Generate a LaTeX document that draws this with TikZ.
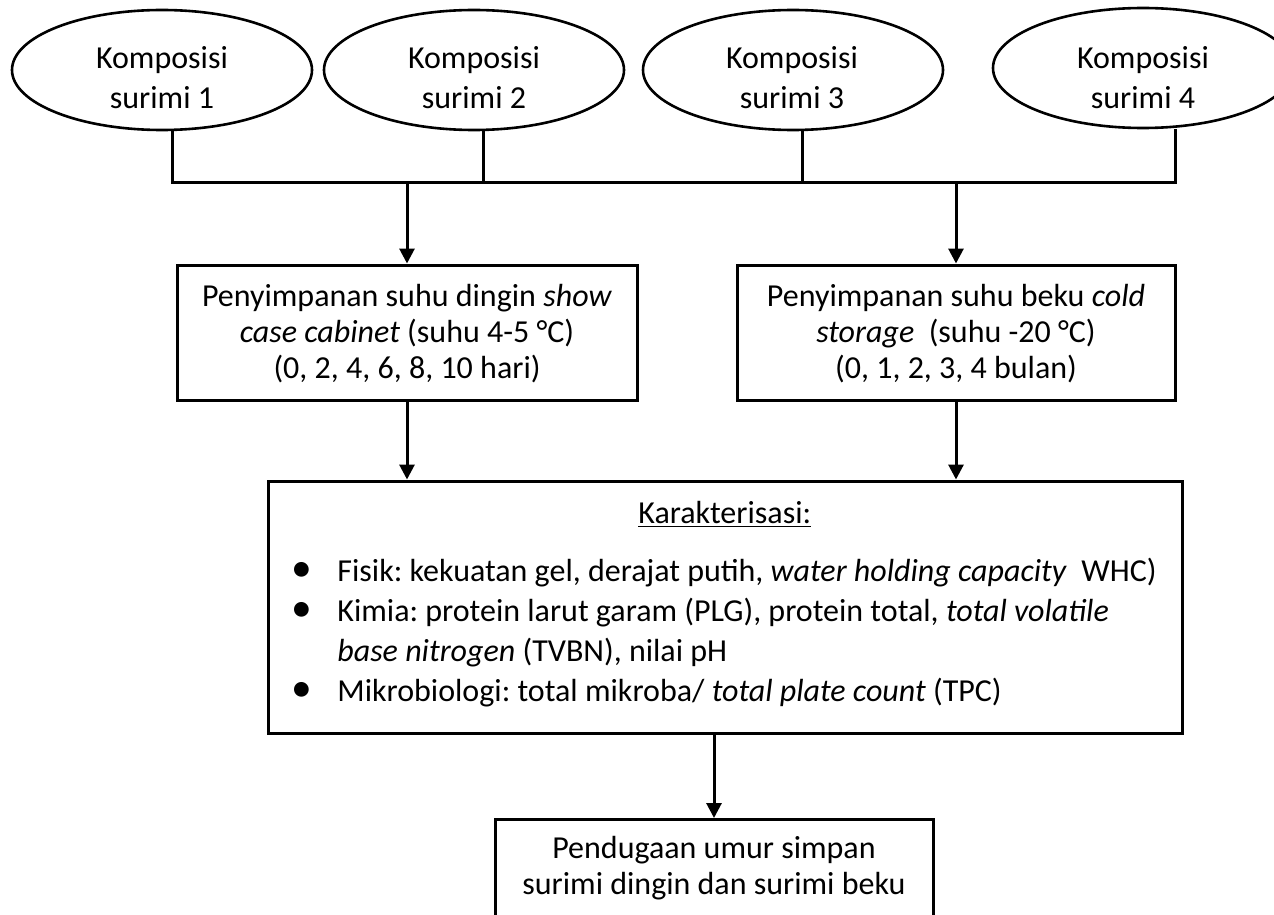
\documentclass[tikz,border=0pt]{standalone}
\usepackage{fontspec}
\setmainfont{Carlito}
\usetikzlibrary{arrows.meta, positioning, shapes.geometric}
\frenchspacing

\begin{document}
\begin{tikzpicture}[
    x=0.5pt, y=-0.5pt,
    oval/.style={draw, ellipse, line width=1.3pt, minimum width=150pt, minimum height=60pt, inner sep=0pt},
    card/.style={draw, rectangle, line width=1.5pt, inner sep=0pt},
    caption/.style={align=center, inner sep=0pt, font=\fontsize{16}{20}\selectfont},
    boxtext/.style={align=center, inner sep=0pt, font=\fontsize{16}{18}\selectfont},
    link/.style={line width=1.5pt},
    arrow/.style={-{Triangle[length=7.5pt, width=7.5pt]}, line width=1.5pt}
]
\useasboundingbox (0,0) rectangle (1274,915);
\clip (0,0) rectangle (1274,915);

% Compositions
\node[oval] (comp1) at (162,70) {};
\node[caption, anchor=base] (comp1-text) at (162,109) {Komposisi\\surimi 1};
\node[oval] (comp2) at (474,70) {};
\node[caption, anchor=base] (comp2-text) at (474,109) {Komposisi\\surimi 2};
\node[oval] (comp3) at (793,70) {};
\node[caption, anchor=base] (comp3-text) at (792,109) {Komposisi\\surimi 3};
\node[oval] (comp4) at (1143,68) {};
\node[caption, anchor=base] (comp4-text) at (1143,109) {Komposisi\\surimi 4};

% Storage
\node[card, minimum width=230pt, minimum height=67.5pt] (store1) at (407,332.5) {};
\node[boxtext, anchor=base] (store1-text) at (407,378) {Penyimpanan suhu dingin \textit{show}\\\textit{case cabinet} (suhu 4-5 °C)\\(0, 2, 4, 6, 8, 10 hari)};
\node[card, minimum width=219pt, minimum height=67.5pt] (store2) at (956,332.5) {};
\node[boxtext, anchor=base] (store2-text) at (956,378) {Penyimpanan suhu beku \textit{cold}\\\textit{storage}\ \ (suhu -20 °C)\\(0, 1, 2, 3, 4 bulan)};

% Characterisation
\node[card, minimum width=457pt, minimum height=126pt] (karakter) at (725,607) {};
\node[caption, anchor=base west] (karakter-title) at (638,523) {\underline{Karakterisasi:}};
\node[caption, anchor=base west] (karakter-list) at (291,581) {%
  \begin{tabular}[t]{@{}l@{}l@{}}
  \makebox[23pt][l]{\scalebox{1.3}{\textbullet}} & Fisik: kekuatan gel, derajat putih, \textit{water holding capacity}\ \ WHC)\\
  \makebox[23pt][l]{\scalebox{1.3}{\textbullet}} & Kimia: protein larut garam (PLG), protein total, \textit{total volatile}\\
  & \textit{base nitrogen} (TVBN), nilai pH\\
  \makebox[23pt][l]{\scalebox{1.3}{\textbullet}} & Mikrobiologi: total mikroba/ \textit{total plate count} (TPC)
  \end{tabular}};

% Shelf life
\node[card, minimum width=219pt, minimum height=60pt, anchor=north] (estimate) at (714,818) {};
\node[boxtext, anchor=base] (estimate-text) at (714,894) {Pendugaan umur simpan\\surimi dingin dan surimi beku};

% Connectors
\coordinate (bar-l) at (172,182);
\coordinate (bar-r) at (1175,182);
\coordinate (joint2) at (483,182);
\coordinate (joint3) at (802,182);
\draw[link] (comp1.south -| bar-l) -- (bar-l) -- (bar-r) -- (comp4.south -| bar-r);
\draw[link] (comp2.south -| joint2) -- (joint2);
\draw[link] (comp3.south -| joint3) -- (joint3);
\draw[arrow] (store1.north |- bar-l) -- (store1.north);
\draw[arrow] (store2.north |- bar-l) -- (store2.north);
\draw[arrow] (store1.south) -- (store1.south |- karakter.north);
\draw[arrow] (store2.south) -- (store2.south |- karakter.north);
\draw[arrow] (estimate.north |- karakter.south) -- (estimate.north);

\end{tikzpicture}
\end{document}
